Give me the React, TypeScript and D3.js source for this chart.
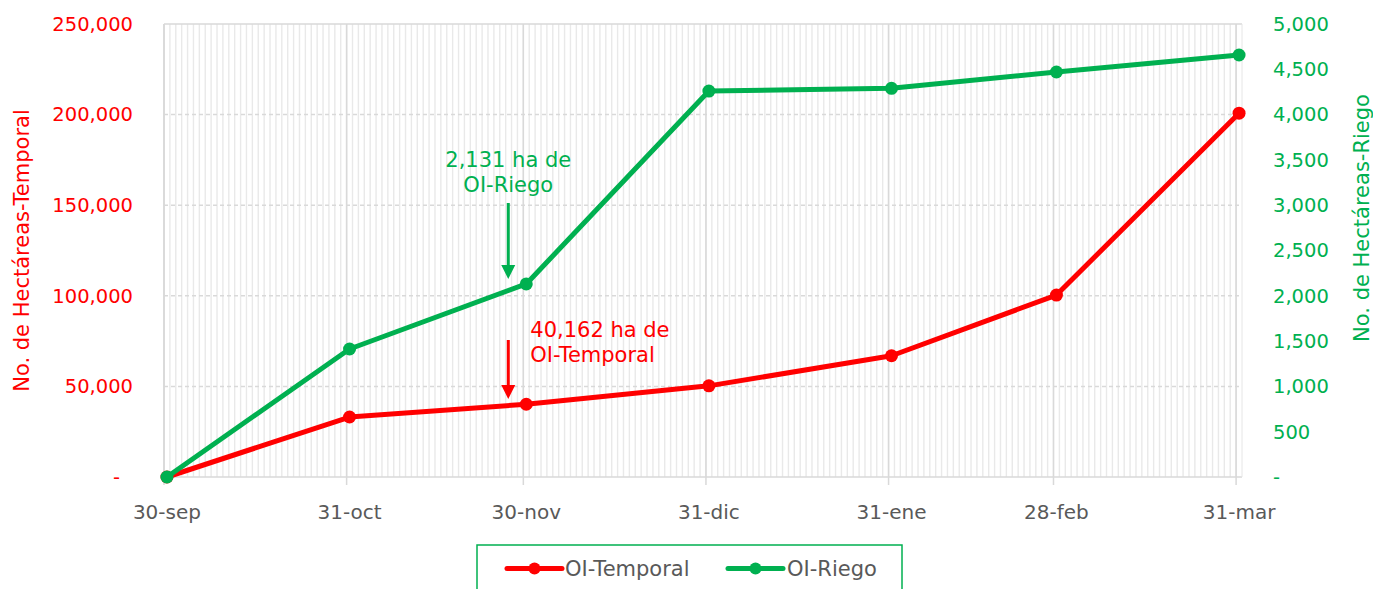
import React from 'react';
import * as d3 from 'd3';

const dateKeys = ['2022-09-30', '2022-10-31', '2022-11-30', '2022-12-31', '2023-01-31', '2023-02-28', '2023-03-31'];
const tickLabels = ['30-sep', '31-oct', '30-nov', '31-dic', '31-ene', '28-feb', '31-mar'];
const temporal = [0, 33100, 40162, 50300, 66900, 100400, 200800];
const riego = [0, 1413, 2131, 4260, 4290, 4470, 4658];
const leftTicks = [0, 50000, 100000, 150000, 200000, 250000];
const rightTicks = [0, 500, 1000, 1500, 2000, 2500, 3000, 3500, 4000, 4500, 5000];

const RED = '#ff0000';
const GREEN = '#00b050';
const GRAY = '#595959';
const FONT = '"DejaVu Sans", sans-serif';

const W = 1373;
const H = 589;
const plot = { left: 164, right: 1242, top: 24, bottom: 477 };

const parse = d3.timeParse('%Y-%m-%d');
const dates = dateKeys.map(d => parse(d) as Date);
// points sit in the middle of their day slot
const mid = (d: Date) => d3.timeHour.offset(d, 12);

const fmt = (v: number) => (v === 0 ? '-' : d3.format(',')(v));

export default function App() {
  const x = d3.scaleTime()
    .domain([dates[0], d3.timeDay.offset(dates[dates.length - 1], 1)])
    .range([plot.left, plot.right]);
  const yL = d3.scaleLinear().domain([0, 250000]).range([plot.bottom, plot.top]);
  const yR = d3.scaleLinear().domain([0, 5000]).range([plot.bottom, plot.top]);

  const days = d3.timeDay.range(dates[0], x.domain()[1]);

  const lineT = d3.line<number>().x((_, i) => x(mid(dates[i]))).y(d => yL(d));
  const lineR = d3.line<number>().x((_, i) => x(mid(dates[i]))).y(d => yR(d));

  const nov = mid(dates[2]);
  const arrowX = x(nov) - 18;

  return (
    <svg width={W} height={H} style={{ position: 'absolute', left: 0, top: 0, fontFamily: FONT }}>
      <rect width={W} height={H} fill="#fff" />

      {/* daily minor gridlines */}
      {days.map((d, i) => (
        <line key={'m' + i} x1={x(d)} x2={x(d)} y1={plot.top} y2={plot.bottom} stroke="#e9e9e9" strokeWidth={1.4} />
      ))}
      {/* horizontal gridlines */}
      {leftTicks.map(t => (
        <line key={'h' + t} x1={plot.left} x2={plot.right} y1={yL(t)} y2={yL(t)}
          stroke="#d9d9d9" strokeWidth={1.5} strokeDasharray={t === 0 || t === 250000 ? undefined : '4,3'} />
      ))}
      {/* month gridlines + ticks */}
      {dates.map((d, i) => (
        <line key={'g' + i} x1={x(d)} x2={x(d)} y1={plot.top} y2={plot.bottom + 8} stroke="#d9d9d9" strokeWidth={1.5} />
      ))}
      <line x1={plot.left} x2={plot.left} y1={plot.top} y2={plot.bottom} stroke="#d9d9d9" strokeWidth={1.5} />
      <line x1={plot.right} x2={plot.right} y1={plot.top} y2={plot.bottom} stroke="#e6e6e6" strokeWidth={1} />

      {/* x labels */}
      {dates.map((d, i) => (
        <text key={'xl' + i} x={x(mid(d))} y={519} textAnchor="middle" fontSize={20} fill={GRAY}>{tickLabels[i]}</text>
      ))}

      {/* left axis */}
      {leftTicks.map(t => (
        <text key={'l' + t} x={t === 0 ? 120 : 133} y={yL(t)} dy="0.35em" textAnchor="end" fontSize={19.5} fill={RED}>{fmt(t)}</text>
      ))}
      {/* right axis */}
      {rightTicks.map(t => (
        <text key={'r' + t} x={1273} y={yR(t)} dy="0.35em" textAnchor="start" fontSize={19.5} fill={GREEN}>{fmt(t)}</text>
      ))}

      <text transform={`translate(22,${(plot.top + plot.bottom) / 2}) rotate(-90)`} textAnchor="middle" dy="0.35em"
        fontSize={21} fill={RED}>No. de Hectáreas-Temporal</text>
      <text transform={`translate(1362,218) rotate(-90)`} textAnchor="middle" dy="0.35em"
        fontSize={21} fill={GREEN}>No. de Hectáreas-Riego</text>

      {/* series */}
      <path d={lineT(temporal) || ''} fill="none" stroke={RED} strokeWidth={5} strokeLinejoin="round" />
      {temporal.map((v, i) => (
        <circle key={'tc' + i} cx={x(mid(dates[i]))} cy={yL(v)} r={6.5} fill={RED} />
      ))}
      <path d={lineR(riego) || ''} fill="none" stroke={GREEN} strokeWidth={5} strokeLinejoin="round" />
      {riego.map((v, i) => (
        <circle key={'rc' + i} cx={x(mid(dates[i]))} cy={yR(v)} r={6.5} fill={GREEN} />
      ))}

      {/* annotations */}
      <text x={arrowX} y={167} textAnchor="middle" fontSize={21} fill={GREEN}>
        <tspan x={arrowX}>2,131 ha de</tspan>
        <tspan x={arrowX} dy={25}>OI-Riego</tspan>
      </text>
      <line x1={arrowX} x2={arrowX} y1={203} y2={266} stroke={GREEN} strokeWidth={3} />
      <path d={`M${arrowX - 7},${265} L${arrowX + 7},${265} L${arrowX},${279} Z`} fill={GREEN} />

      <text x={x(nov) + 4} y={337} fontSize={21} fill={RED}>
        <tspan x={x(nov) + 4}>40,162 ha de</tspan>
        <tspan x={x(nov) + 4} dy={25}>OI-Temporal</tspan>
      </text>
      <line x1={arrowX} x2={arrowX} y1={340} y2={386} stroke={RED} strokeWidth={3} />
      <path d={`M${arrowX - 7},${385} L${arrowX + 7},${385} L${arrowX},${399} Z`} fill={RED} />

      {/* legend */}
      <rect x={477} y={545} width={425} height={60} fill="#fff" stroke={GREEN} strokeWidth={1.5} />
      <line x1={507} x2={562} y1={568.5} y2={568.5} stroke={RED} strokeWidth={5} strokeLinecap="round" />
      <circle cx={534.5} cy={568.5} r={6} fill={RED} />
      <text x={565} y={576} fontSize={21} fill={GRAY}>OI-Temporal</text>
      <line x1={728} x2={783} y1={568.5} y2={568.5} stroke={GREEN} strokeWidth={5} strokeLinecap="round" />
      <circle cx={755.5} cy={568.5} r={6} fill={GREEN} />
      <text x={787} y={576} fontSize={21} fill={GRAY}>OI-Riego</text>
    </svg>
  );
}
